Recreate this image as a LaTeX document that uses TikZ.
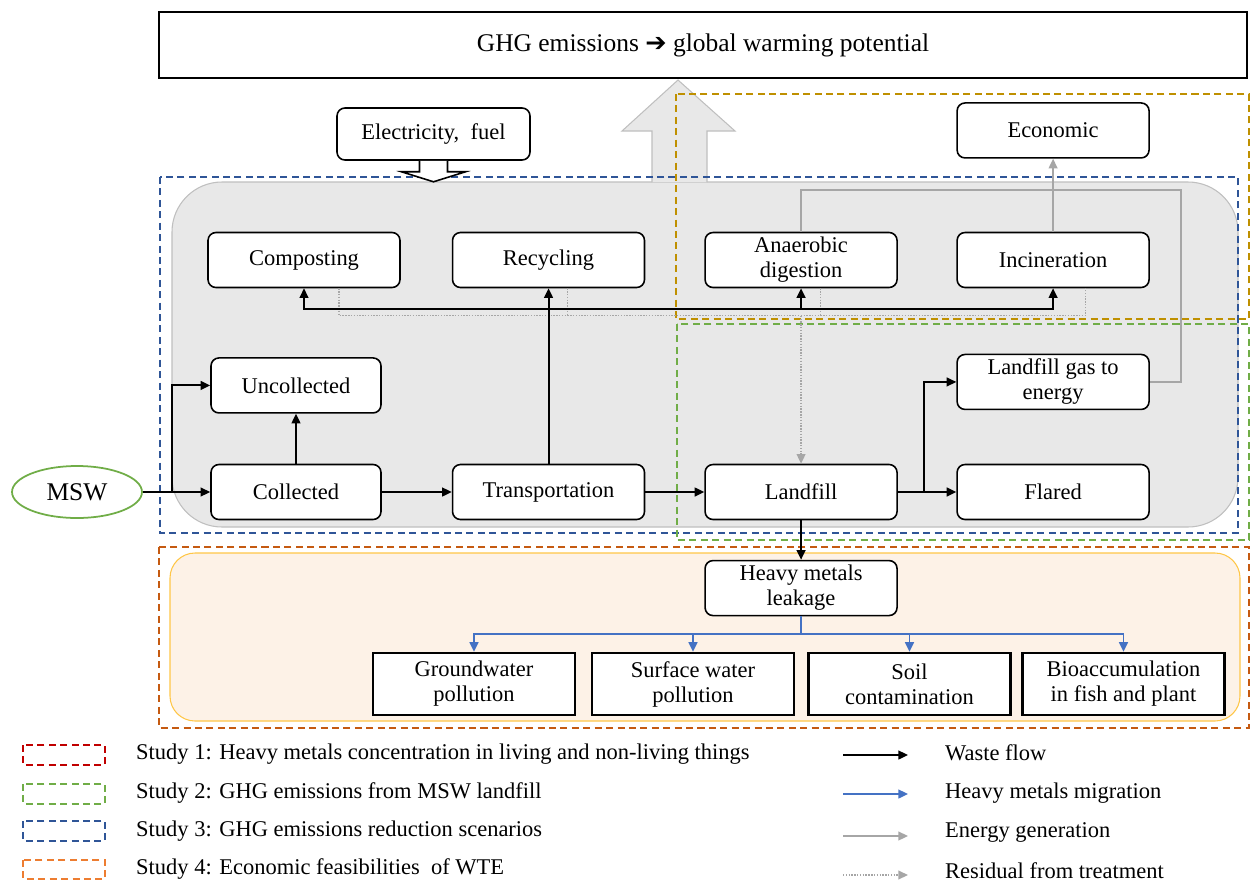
\documentclass[tikz,border=0pt]{standalone}
\usepackage{fontspec}
\setmainfont{Liberation Serif}
\newfontfamily\dingfont{DejaVu Sans}
\usepackage{xcolor}
\usepackage{tikz}
\usetikzlibrary{arrows.meta, positioning, calc, shapes.geometric}
\definecolor{st1-brown}{RGB}{197, 90, 17}
\definecolor{st1-red}{RGB}{192, 0, 0}
\definecolor{st2-green}{RGB}{112, 173, 71}
\definecolor{st3-blue}{RGB}{47, 85, 151}
\definecolor{st4-gold}{RGB}{191, 144, 0}
\definecolor{st4-orange}{RGB}{237, 125, 49}
\definecolor{bg-grey}{RGB}{232, 232, 232}
\definecolor{bg-edge}{RGB}{191, 191, 191}
\definecolor{peach}{RGB}{253, 242, 231}
\definecolor{peach-edge}{RGB}{255, 198, 70}
\definecolor{hm-blue}{RGB}{68, 114, 196}
\definecolor{en-grey}{RGB}{166, 166, 166}
\newcommand{\mainsize}{\fontsize{12.8}{14.2}\selectfont}

\begin{document}
\begin{tikzpicture}[x=0.02cm, y=-0.02cm,
        box/.style={rectangle, rounded corners=4.5pt, draw, line width=0.9pt, fill=white,
                    minimum width=3.84cm, minimum height=1.1cm, inner sep=2pt,
                    align=center, font=\mainsize},
        sbox/.style={box, minimum width=3.4cm},
        impact/.style={rectangle, draw, line width=1.3pt, fill=white,
                    minimum width=4.04cm, minimum height=1.24cm, inner sep=2pt,
                    align=center, font=\mainsize},
        wflow/.style={-{Triangle[length=5.5pt, width=5pt]}, line width=1.1pt},
        hmig/.style={-{Triangle[length=5.5pt, width=5pt]}, line width=1.1pt, color=hm-blue},
        energy/.style={line width=1pt, color=en-grey},
        resid/.style={line width=0.8pt, dash pattern=on 0.8pt off 0.8pt, color=en-grey},
        study/.style={line width=1pt, dash pattern=on 4pt off 2.5pt}
      ]
        \useasboundingbox (0,0) rectangle (1252,883);

        \draw[peach-edge, fill=peach, line width=0.6pt, rounded corners=0.5cm] (170,553) rectangle (1240,721);
        \draw[bg-edge, fill=bg-grey, line width=0.6pt, rounded corners=1cm] (172,182) rectangle (1238,527);
        \filldraw[bg-edge, fill=bg-grey, line width=0.6pt]
          (652,182) -- (652,131) -- (622,131) -- (678,80) -- (735,131) -- (707,131) -- (707,182);

        \draw[study, st3-blue] (160,177) rectangle (1238,533);
        \draw[study, st4-gold] (676,94) rectangle (1249,319);
        \draw[study, st2-green] (677,324) rectangle (1249,540);
        \draw[study, st1-brown] (159,547) rectangle (1249,728);

        \node[rectangle, draw, line width=1pt, fill=white, minimum width=21.76cm, minimum height=1.32cm,
              font=\fontsize{14.5}{16}\selectfont] (ghg) at (703,45)
              {GHG\ emissions {\dingfont ➔} global\ warming\ potential};
        \node[box, minimum width=3.86cm, minimum height=1.04cm] (elec) at (433.5,134) {Electricity,\ \ fuel};

        \node[ellipse, draw=st2-green, line width=1pt, fill=white, minimum width=2.6cm, minimum height=1.04cm,
              font=\fontsize{14.5}{16}\selectfont] (msw) at (77,492) {MSW};
        \node[sbox] (col) at (296,492) {Collected};
        \node[sbox, above=1cm of col] (uncol) {Uncollected};
        \node[box, right=1.4cm of col] (trans) {Transportation};
        \node[box, right=1.18cm of trans] (land) {Landfill};
        \node[box, right=1.17cm of land] (flare) {Flared};
        \node[box, above=1.07cm of flare] (lfg) {Landfill gas to\\energy};

        \node[box] (comp) at (304,260) {Composting};
        \node[box] (recy) at (trans |- comp) {Recycling};
        \node[box] (ad) at (land |- comp) {Anaerobic\\digestion};
        \node[box] (inc) at (flare |- comp) {Incineration};
        \node[box, above=1.46cm of inc] (econ) {Economic};

        \node[box, below=0.79cm of land] (hm) {Heavy metals\\leakage};
        \node[impact] (gw) at (474,684) {Groundwater\\pollution};
        \node[impact] (sw) at (693,684) {Surface water\\pollution};
        \node[impact] (soil) at (909.5,684) {Soil\\contamination};
        \node[impact] (bio) at (1123.5,684) {Bioaccumulation\\in fish and plant};

        \coordinate (split) at ($(msw.east)!0.43!(col.west)$);
        \coordinate (hub) at ($(recy.south)+(0,21)$);
        \coordinate (lsplit) at ($(land.east)!0.45!(flare.west)$);
        \coordinate (hbus) at ($(hm.south)+(0,18)$);
        \coordinate (rc) at ([xshift=0.7cm]comp.south);
        \coordinate (rr) at ([xshift=0.38cm]recy.south);
        \coordinate (ra) at ([xshift=0.39cm]ad.south);
        \coordinate (ri) at ([xshift=0.65cm]inc.south);
        \coordinate (rbus) at ($(land.north)+(0,-148)$);
        \coordinate (ebus) at ($(ad.north)+(0,-42)$);

        \draw[resid] (rc) |- (rbus -| ri) -- (ri);
        \draw[resid] (rr) -- (rr |- rbus);
        \draw[resid] (ra) -- (ra |- rbus);
        \draw[resid, -{Triangle[length=5.5pt, width=5pt]}] (rbus) -- (land);

        \draw[energy] (ad.north) -- (ebus) -| ([xshift=0.62cm]lfg.east) -- (lfg.east);
        \draw[energy, -{Triangle[length=5.5pt, width=5pt]}] (inc) -- (econ);

        \draw[wflow] (msw) -- (col);
        \draw[wflow] (split) |- (uncol.west);
        \draw[wflow] (col) -- (uncol);
        \draw[wflow] (col) -- (trans);
        \draw[wflow] (trans) -- (land);
        \draw[wflow] (trans) -- (recy);
        \draw[wflow] (hub) -| (comp);
        \draw[wflow] (hub) -| (inc);
        \draw[wflow] (hub -| ad) -- (ad);
        \draw[wflow] (land) -- (flare);
        \draw[wflow] (lsplit) |- (lfg.west);
        \draw[wflow] (land) -- (hm);

        \draw[hmig] (hm.south) -- (hbus) -| (gw);
        \draw[hmig] (hbus) -| (bio);
        \draw[hmig] (hbus -| sw) -- (sw);
        \draw[hmig] (hbus -| soil) -- (soil);

        \filldraw[fill=white, line width=0.9pt]
          ($(elec.south)+(-14,0)$) -- ++(0,11) -- ++(-18,0) -- ++(32,10) -- ++(32,-10) -- ++(-18,0) -- ++(0,-11);

        \draw[study, st1-red] (23,745) rectangle (105,765);
        \draw[study, st2-green] (23,784) rectangle (105,804);
        \draw[study, st3-blue] (23,821) rectangle (105,841);
        \draw[study, st4-orange] (23,860) rectangle (105,879);
        \node[anchor=west, font=\mainsize] (l1) at (130,754) {Study 1: Heavy metals concentration in living and non-living things};
        \node[anchor=west, font=\mainsize] (l2) at (130,793) {Study 2: GHG emissions from MSW landfill};
        \node[anchor=west, font=\mainsize] (l3) at (130,831) {Study 3: GHG emissions reduction scenarios};
        \node[anchor=west, font=\mainsize] (l4) at (130,869) {Study 4: Economic feasibilities\ \ of WTE};

        \node[anchor=west, font=\mainsize] (lw) at (939,753) {Waste flow};
        \node[anchor=west, font=\mainsize] (lh) at (939,793) {Heavy metals migration};
        \node[anchor=west, font=\mainsize] (le) at (939,832) {Energy generation};
        \node[anchor=west, font=\mainsize] (lr) at (939,871) {Residual from treatment};
        \draw[wflow] ($(lw.west)+(-96,2)$) -- ($(lw.west)+(-31,2)$);
        \draw[hmig] ($(lh.west)+(-96,1)$) -- ($(lh.west)+(-31,1)$);
        \draw[energy, -{Triangle[length=5.5pt, width=5pt]}] ($(le.west)+(-96,4)$) -- ($(le.west)+(-31,4)$);
        \draw[resid, -{Triangle[length=5.5pt, width=5pt]}] ($(lr.west)+(-96,4)$) -- ($(lr.west)+(-31,4)$);
      \end{tikzpicture}
\end{document}
